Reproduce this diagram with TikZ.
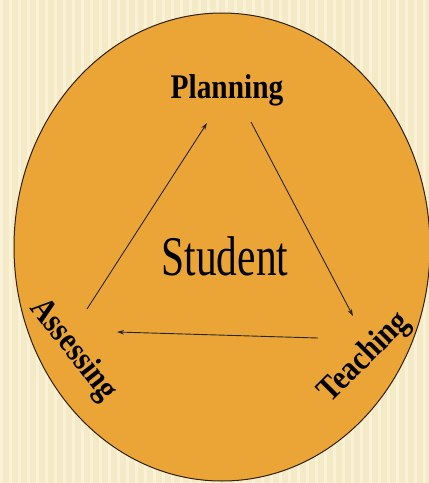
\documentclass[tikz,border=0pt]{standalone}
\usepackage{fontspec}
\usepackage{graphicx}
\setmainfont{Liberation Serif}
\usetikzlibrary{arrows.meta}
\definecolor{bgcream}{HTML}{F5EAC6}
\definecolor{bgstripe}{HTML}{FBF6E2}
\definecolor{orangefill}{HTML}{EBA537}
\newcommand{\tallbold}[1]{\scalebox{0.98}[1.15]{\bfseries\fontsize{30}{32}\selectfont #1}}
\tikzset{
  label/.style={inner sep=0pt, text=black},
  cyclearrow/.style={draw=black!85, line width=0.9pt, -{Stealth[length=7pt,width=4.5pt]}},
}
\begin{document}
\begin{tikzpicture}[x=1pt,y=-1pt]
\useasboundingbox (0,0) rectangle (429,483);
\fill[bgcream] (0,0) rectangle (429,483);
\foreach \i in {0,...,48} {
  \fill[bgstripe, opacity=0.7] ({\i*9},0) rectangle ({\i*9+3},483);
}
\draw[fill=orangefill, draw=black!80!orangefill, line width=1pt] (222,247) ellipse [x radius=208, y radius=234];
\node[label, anchor=base] (planning) at (227,98) {\tallbold{Planning}};
\node[inner sep=0pt, anchor=base] (student) at (225,275) {\scalebox{0.74}[1]{\fontsize{56}{60}\selectfont Student}};
\node[label, rotate=-52] (assessing) at (73,350) {\tallbold{Assessing}};
\node[label, rotate=45] (teaching) at (365,358) {\tallbold{Teaching}};
\coordinate (a1) at (87,309);
\coordinate (p1) at (207,123);
\coordinate (p2) at (251,122);
\coordinate (t1) at (353,316);
\coordinate (t2) at (318,338);
\coordinate (a2) at (117,332);
\draw[cyclearrow] (a1) -- (p1);
\draw[cyclearrow] (p2) -- (t1);
\draw[cyclearrow] (t2) -- (a2);
\end{tikzpicture}
\end{document}
